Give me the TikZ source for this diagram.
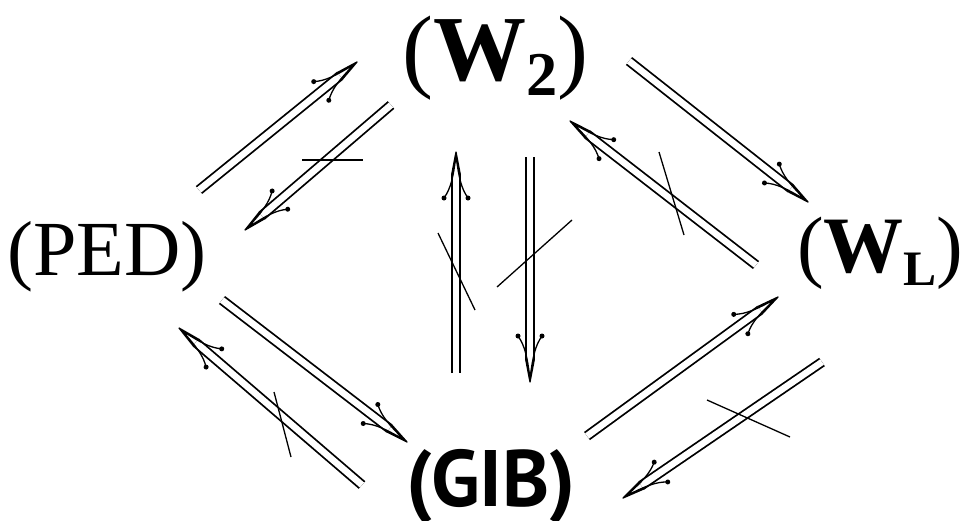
\documentclass[tikz,border=0pt]{standalone}
\usepackage{fontspec}
\setmainfont{Liberation Serif}
\newfontfamily\gibfont{PT Sans}
\usetikzlibrary{arrows.meta,positioning}

% double arrow head with barbs
\pgfdeclarearrow{
  name = ImpBarb,
  setup code = {
    \pgfarrowssettipend{0pt}
    \pgfarrowssetlineend{-22pt}
    \pgfarrowssetbackend{-48pt}
    \pgfarrowsupperhullpoint{0pt}{0pt}
    \pgfarrowsupperhullpoint{-48pt}{13pt}
  },
  drawing code = {
    \pgfsetdash{}{0pt}
    \pgfsetlinewidth{1.3pt}
    \pgfsetroundcap
    \pgfsetroundjoin
    \pgfpathmoveto{\pgfpoint{-22pt}{4.2pt}}
    \pgfpathlineto{\pgfpointorigin}
    \pgfpathlineto{\pgfpoint{-22pt}{-4.2pt}}
    \pgfpathmoveto{\pgfpoint{-4pt}{0pt}}
    \pgfpathcurveto{\pgfpoint{-26pt}{3pt}}{\pgfpoint{-36pt}{5pt}}{\pgfpoint{-46pt}{12pt}}
    \pgfpathmoveto{\pgfpoint{-4pt}{0pt}}
    \pgfpathcurveto{\pgfpoint{-26pt}{-3pt}}{\pgfpoint{-36pt}{-5pt}}{\pgfpoint{-46pt}{-12pt}}
    \pgfusepathqstroke
    \pgfpathcircle{\pgfpoint{-46pt}{12pt}}{2.5pt}
    \pgfpathcircle{\pgfpoint{-46pt}{-12pt}}{2.5pt}
    \pgfusepathqfill
  }
}

\tikzset{
  imp/.style={double, double distance=6.5pt, line width=1.8pt, -{ImpBarb}},
  strike/.style={line width=1.3pt},
  lbl/.style={inner sep=0pt, anchor=base west}
}

\begin{document}
\begin{tikzpicture}[x=1pt, y=-1pt]
    \useasboundingbox (0,0) rectangle (965,520);

    % Conditions
    \node[lbl, font=\fontsize{78}{80}\selectfont] (ped) at (7,275) {(PED)};
    \node[lbl, font=\fontsize{93}{95}\selectfont] (wtwo) at (402,80)
        {(\textbf{W}\raisebox{-0.17em}{\scalebox{0.67}{\textbf{2}}})};
    \node[lbl, font=\fontsize{80}{84}\selectfont] (wl) at (797,272)
        {(\textbf{W}\raisebox{-0.17em}{\scalebox{0.62}{\textbf{L}}})};
    \node[lbl, font=\gibfont\bfseries\fontsize{80}{84}\selectfont] (gib) at (406,506) {(GIB)};

    % Ends of the implications
    \coordinate (pw-s) at (199,190);  \coordinate (pw-e) at (357,62);
    \coordinate (wp-s) at (391,105);  \coordinate (wp-e) at (245,230);
    \coordinate (gw-s) at (456,373);  \coordinate (gw-e) at (456,152);
    \coordinate (wg-s) at (530,157);  \coordinate (wg-e) at (530,382);
    \coordinate (ww-s) at (629,61);   \coordinate (ww-e) at (808,202);
    \coordinate (lw-s) at (756,265);  \coordinate (lw-e) at (570,121);
    \coordinate (pg-s) at (222,300);  \coordinate (pg-e) at (407,442);
    \coordinate (gp-s) at (362,485);  \coordinate (gp-e) at (179,328);
    \coordinate (gl-s) at (587,436);  \coordinate (gl-e) at (778,297);
    \coordinate (lg-s) at (822,362);  \coordinate (lg-e) at (623,498);

    % Implications
    \foreach \a in {pw,wp,gw,wg,ww,lw,pg,gp,gl,lg}
        \draw[imp] (\a-s) -- (\a-e);

    % Non-implications
    \draw[strike] (302,160) -- (363,160);
    \draw[strike] (438,233) -- (475,310);
    \draw[strike] (497,287) -- (572,220);
    \draw[strike] (659,152) -- (684,235);
    \draw[strike] (274,392) -- (291,457);
    \draw[strike] (707,400) -- (790,437);
\end{tikzpicture}
\end{document}
